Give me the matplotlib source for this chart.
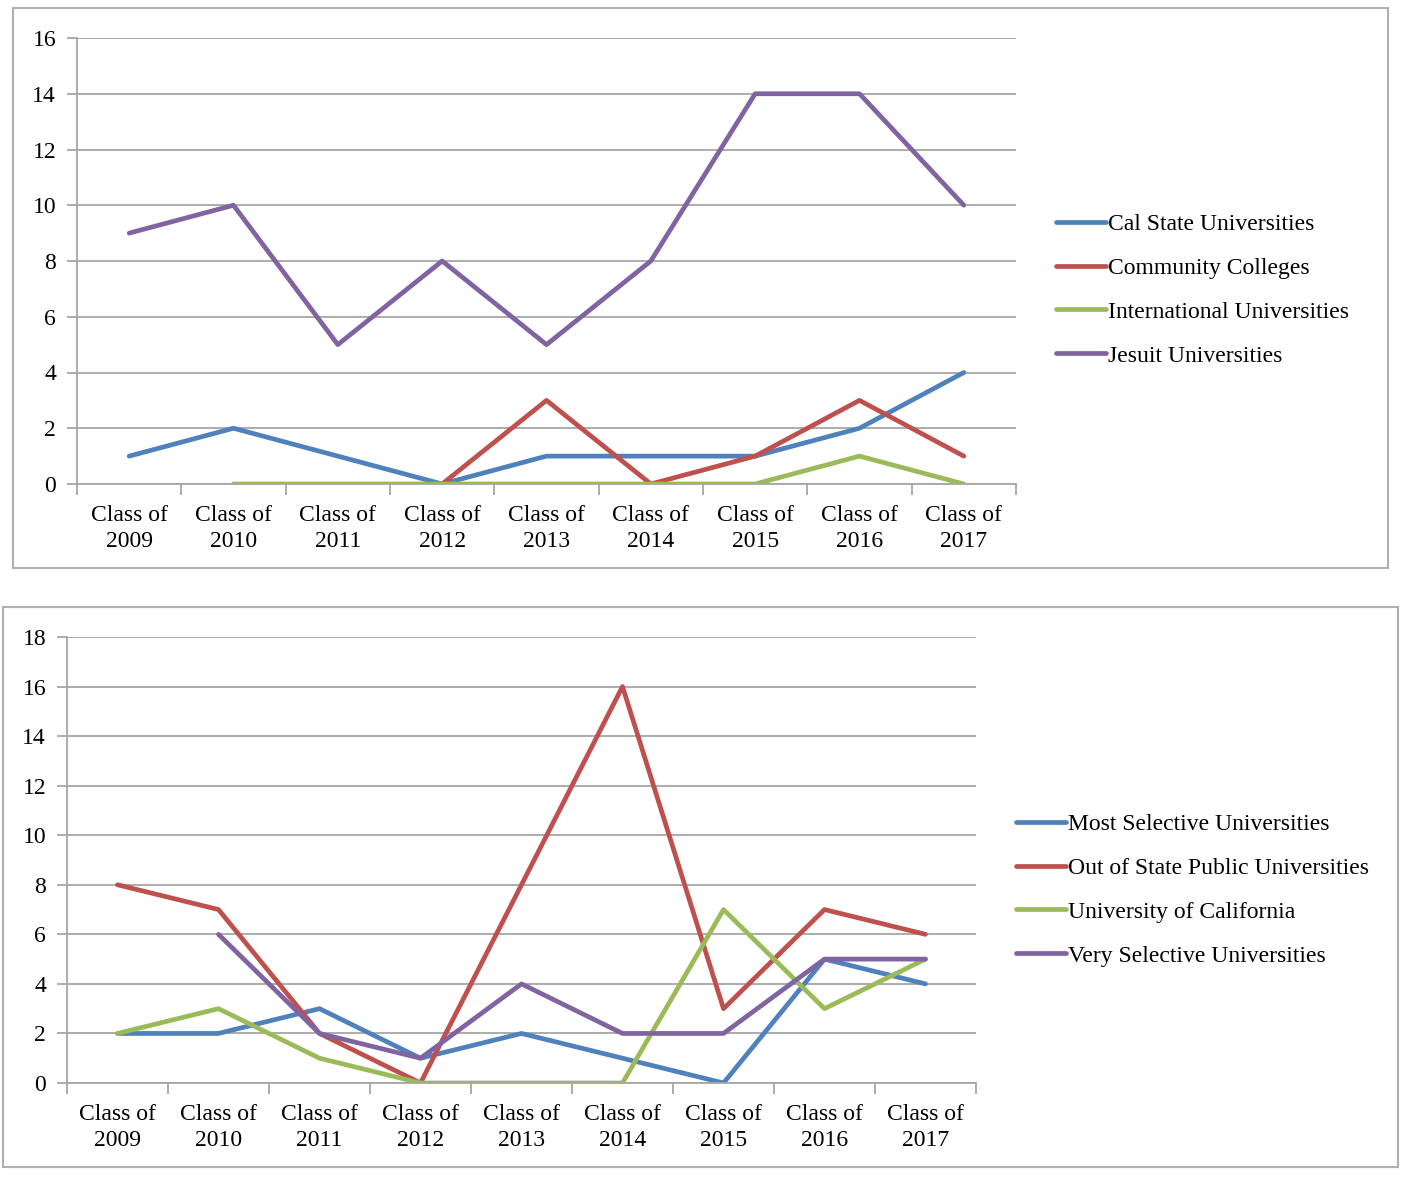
import numpy as np
import matplotlib.pyplot as plt
from matplotlib.patches import Rectangle

# category labels shared by both charts
years = ["2009", "2010", "2011", "2012", "2013", "2014", "2015", "2016", "2017"]
labels = ["Class of\n" + y for y in years]

# top chart
cal_state = [1, 2, 1, 0, 1, 1, 1, 2, 4]
community = [np.nan, np.nan, np.nan, 0, 3, 0, 1, 3, 1]
international = [np.nan, 0, 0, 0, 0, 0, 0, 1, 0]
jesuit = [9, 10, 5, 8, 5, 8, 14, 14, 10]

# bottom chart
most_selective = [2, 2, 3, 1, 2, 1, 0, 5, 4]
out_of_state = [8, 7, 2, 0, 8, 16, 3, 7, 6]
uc = [2, 3, 1, 0, 0, 0, 7, 3, 5]
very_selective = [np.nan, 6, 2, 1, 4, 2, 2, 5, 5]

colors = ["#4F81BD", "#C0504D", "#9BBB59", "#8064A2"]
grid_col = "#A6A6A6"

plt.rcParams['font.family'] = ['Liberation Serif', 'DejaVu Serif']
W, H = 1415, 1188
fig = plt.figure(figsize=(W / 100, H / 100), dpi=100)


def px_rect(x0, y0, x1, y1):
    return [x0 / W, 1 - y1 / H, (x1 - x0) / W, (y1 - y0) / H]


def frame(x0, y0, x1, y1):
    fig.patches.append(Rectangle((x0 / W, 1 - y1 / H), (x1 - x0) / W, (y1 - y0) / H,
                                 transform=fig.transFigure, fill=False,
                                 edgecolor="#B0B0B0", linewidth=1.5))


def draw_chart(ax, series, names, ymax, leg_xy):
    x = np.arange(len(labels))
    for vals, name, c in zip(series, names, colors):
        ax.plot(x, vals, color=c, linewidth=3.4, label=name, solid_capstyle='round')
    ax.set_xlim(-0.5, len(labels) - 0.5)
    ax.set_ylim(0, ymax)
    ax.set_yticks(np.arange(0, ymax + 1, 2))
    ax.yaxis.grid(True, color=grid_col, linewidth=1.3)
    ax.set_axisbelow(True)
    for s in ["top", "right"]:
        ax.spines[s].set_visible(False)
    for s in ["left", "bottom"]:
        ax.spines[s].set_color(grid_col)
        ax.spines[s].set_linewidth(1.3)
    ax.set_xticks(x)
    ax.set_xticklabels(labels, fontsize=17, linespacing=1.3)
    ax.set_xticks(np.arange(-0.5, len(labels)), minor=True)
    ax.tick_params(axis='x', which='major', length=0, pad=15)
    ax.tick_params(axis='x', which='minor', length=8, color=grid_col, width=1.3)
    ax.tick_params(axis='y', length=7, color=grid_col, width=1.3, labelsize=17, pad=8)
    ax.legend(loc='center left', bbox_to_anchor=leg_xy, bbox_transform=fig.transFigure,
              frameon=False, fontsize=17, handlelength=2.1, handletextpad=0.1,
              labelspacing=0.95, borderpad=0, borderaxespad=0)


frame(13, 8, 1388, 568)
frame(3, 607, 1398, 1167)

ax1 = fig.add_axes(px_rect(77, 38, 1016, 484))
draw_chart(ax1, [cal_state, community, international, jesuit],
           ["Cal State Universities", "Community Colleges",
            "International Universities", "Jesuit Universities"],
           16, (1056 / W, 1 - 290 / H))

ax2 = fig.add_axes(px_rect(67, 637, 976, 1083))
draw_chart(ax2, [most_selective, out_of_state, uc, very_selective],
           ["Most Selective Universities", "Out of State Public Universities",
            "University of California", "Very Selective Universities"],
           18, (1016 / W, 1 - 890 / H))

fig.savefig("out.png", dpi=100)
